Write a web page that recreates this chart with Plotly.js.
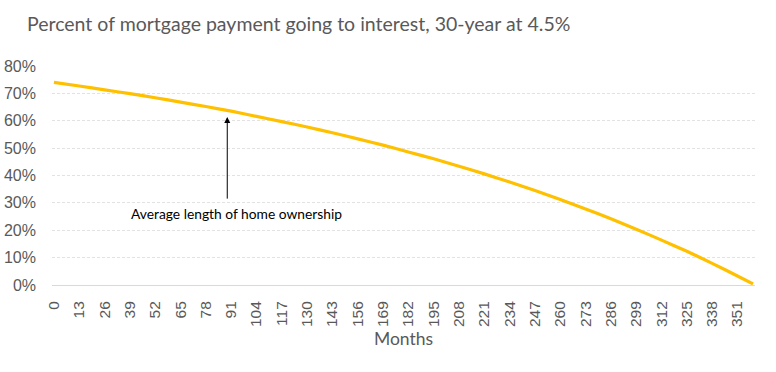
<!DOCTYPE html>
<html>
<head>
<meta charset="utf-8">
<script src="https://cdn.plot.ly/plotly-3.0.1.min.js"></script>
<style>html,body{margin:0;padding:0;background:#fff;}#chart{width:776px;height:372px;}</style>
</head>
<body>
<div id="chart"></div>
<script>
const months = [0, 13, 26, 39, 52, 65, 78, 91, 104, 117, 130, 143, 156, 169, 182, 195, 208, 221, 234, 247, 260, 273, 286, 299, 312, 325, 338, 351, 359];
// Share of payment going to interest (fraction)
const interestShare = [0.740, 0.727, 0.713, 0.699, 0.684, 0.668, 0.652, 0.635, 0.616, 0.597, 0.577, 0.556, 0.534, 0.511, 0.486, 0.461, 0.434, 0.406, 0.376, 0.345, 0.312, 0.278, 0.242, 0.204, 0.164, 0.123, 0.079, 0.033, 0.004];
// Category tick labels shown on the x axis
const tickMonths = [0, 13, 26, 39, 52, 65, 78, 91, 104, 117, 130, 143, 156, 169, 182, 195, 208, 221, 234, 247, 260, 273, 286, 299, 312, 325, 338, 351];
const yTicks = [0, 0.1, 0.2, 0.3, 0.4, 0.5, 0.6, 0.7, 0.8];
const annotationText = "Average length of home ownership";
const annotationMonth = 89;

const font = "Lato, 'Open Sans', sans-serif";
const tickFont = "'Liberation Sans', Arial, sans-serif";

const trace = {
  x: months,
  y: interestShare,
  type: 'scatter',
  mode: 'lines',
  line: {color: '#FFC000', width: 3.2, shape: 'spline', smoothing: 0.6},
  hoverinfo: 'skip'
};

const layout = {
  width: 776, height: 372,
  margin: {l: 52, r: 21, t: 66, b: 87},
  paper_bgcolor: '#ffffff', plot_bgcolor: '#ffffff',
  showlegend: false,
  font: {family: font, color: '#595959'},
  title: {text: 'Percent of mortgage payment going to interest, 30-year at 4.5%',
          font: {family: font, size: 19.5, color: '#595959'},
          x: 0, xref: 'paper', xanchor: 'left', y: 0.935, yref: 'container', yanchor: 'middle',
          pad: {l: -25}},
  xaxis: {
    range: [-1, 360], tickmode: 'array', tickvals: tickMonths, ticktext: tickMonths.map(String),
    tickangle: -90, tickfont: {family: tickFont, size: 15.5, color: '#595959'},
    showgrid: false, zeroline: false, showline: true, linecolor: '#d9d9d9', linewidth: 1,
    ticks: '', ticklabelstandoff: 9,
    title: {text: 'Months', font: {family: font, size: 17.5, color: '#595959'}, standoff: 6}
  },
  yaxis: {
    range: [0, 0.8], tickmode: 'array', tickvals: yTicks, tickformat: '.0%',
    tickfont: {family: tickFont, size: 16, color: '#595959'},
    showgrid: true, gridcolor: '#e2e2e2', griddash: '3px,2px', gridwidth: 1,
    zeroline: false, showline: false, ticks: '', ticklabelstandoff: 15
  },
  annotations: [
    {x: annotationMonth, y: 0.614, xref: 'x', yref: 'y', ax: annotationMonth, ay: 0.31, axref: 'x', ayref: 'y',
     showarrow: true, arrowhead: 2, arrowsize: 1.2, arrowwidth: 1, arrowcolor: '#000000', text: ''},
    {x: 93.5, y: 0.262, xref: 'x', yref: 'y', text: annotationText, showarrow: false,
     font: {family: font, size: 13.8, color: '#000000'}, xanchor: 'center', yanchor: 'middle'}
  ]
};

Plotly.newPlot('chart', [trace], layout, {displayModeBar: false, staticPlot: true});
</script>
</body>
</html>
